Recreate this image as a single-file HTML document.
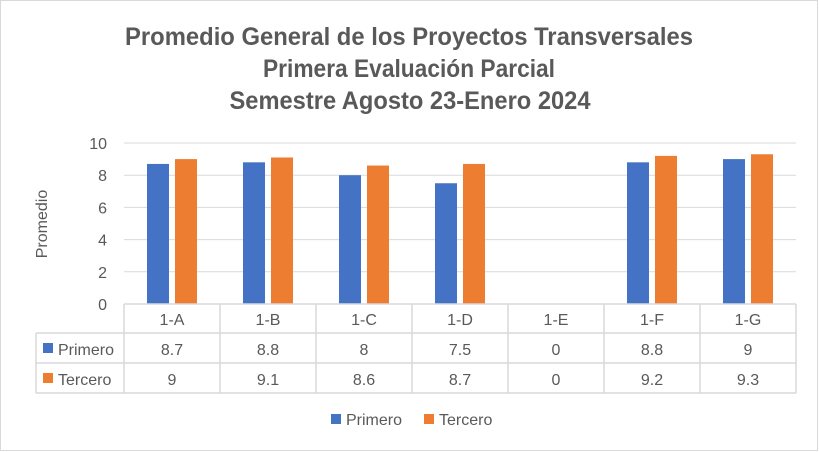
<!DOCTYPE html>
<html><head><meta charset="utf-8"><style>
body{margin:0;background:#fff}
svg{display:block;font-family:"Liberation Sans",sans-serif}
</style></head><body>
<svg id="chart" width="819" height="452">
<rect x="0.5" y="0.5" width="817" height="450" fill="#fff" stroke="#d9d9d9"/>
<g font-weight="bold" fill="#595959" font-size="25" text-anchor="middle">
<text x="409" y="45" textLength="568" lengthAdjust="spacingAndGlyphs">Promedio General de los Proyectos Transversales</text>
<text x="409" y="77" textLength="292" lengthAdjust="spacingAndGlyphs">Primera Evaluación Parcial</text>
<text x="410" y="109" textLength="361" lengthAdjust="spacingAndGlyphs">Semestre Agosto 23-Enero 2024</text>
</g>
<text transform="translate(47,224) rotate(-90)" text-anchor="middle" font-size="16" fill="#595959">Promedio</text>
<g id="grid"></g><g id="bars"></g><g id="table"></g>
<g font-size="16" fill="#595959">
<rect x="331" y="414" width="10" height="10" fill="#4472c4"/>
<text x="346" y="425">Primero</text>
<rect x="424" y="414" width="10" height="10" fill="#ed7d31"/>
<text x="439" y="425">Tercero</text>
</g>
</svg>
<script>
const categories=["1-A","1-B","1-C","1-D","1-E","1-F","1-G"];
const primero=[8.7,8.8,8,7.5,0,8.8,9];
const tercero=[9,9.1,8.6,8.7,0,9.2,9.3];
const yTicks=[0,2,4,6,8,10];
const NS="http://www.w3.org/2000/svg";
const X0=124,CW=96,Y0=304,YT=143,YMAX=10;
const yS=v=>Y0-(Y0-YT)*v/YMAX;
const xC=i=>X0+CW*i+CW/2;
function mk(t,a,p,txt){const e=document.createElementNS(NS,t);for(const k in a)e.setAttribute(k,a[k]);if(txt!==undefined)e.textContent=txt;p.appendChild(e);return e;}
const grid=document.getElementById('grid'),bars=document.getElementById('bars'),tbl=document.getElementById('table');
yTicks.forEach(v=>{
  if(v>0){const l=mk('line',{x1:X0,x2:X0+CW*7,y1:yS(v),y2:yS(v),stroke:'#d9d9d9','stroke-width':1},grid);
  
  }
  const t=mk('text',{x:107,y:yS(v)+6,'text-anchor':'end','font-size':16,fill:'#595959'},grid,String(v));
  
  
});
categories.forEach((c,i)=>{
  const b1=mk('rect',{x:xC(i)-25,y:yS(primero[i]),width:22,height:Y0-yS(primero[i]),fill:'#4472c4'},bars);
  
  
  const b2=mk('rect',{x:xC(i)+3,y:yS(tercero[i]),width:22,height:Y0-yS(tercero[i]),fill:'#ed7d31'},bars);
  
  
});
const R=[304,333,363,393];
const st={stroke:'#d9d9d9','stroke-width':1.5};
mk('line',Object.assign({x1:X0,x2:X0+CW*7,y1:R[0],y2:R[0]},st),tbl);
for(let r=1;r<4;r++)mk('line',Object.assign({x1:36,x2:X0+CW*7,y1:R[r],y2:R[r]},st),tbl);
mk('line',Object.assign({x1:36,x2:36,y1:R[1],y2:R[3]},st),tbl);
for(let i=0;i<=7;i++)mk('line',Object.assign({x1:X0+CW*i,x2:X0+CW*i,y1:R[0],y2:R[3]},st),tbl);
categories.forEach((c,i)=>{
  const t=mk('text',{x:xC(i),y:R[0]+21,'text-anchor':'middle','font-size':16,fill:'#595959'},tbl,c);
  
  
  const a=mk('text',{x:xC(i),y:R[1]+22,'text-anchor':'middle','font-size':16,fill:'#595959'},tbl,String(primero[i]));
  
  
  const b=mk('text',{x:xC(i),y:R[2]+22,'text-anchor':'middle','font-size':16,fill:'#595959'},tbl,String(tercero[i]));
  
  
});
[['Primero','#4472c4',R[1]],['Tercero','#ed7d31',R[2]]].forEach(([n,col,y])=>{
  const s=mk('rect',{x:43,y:y+10,width:10,height:10,fill:col},tbl);
  
  
  const t=mk('text',{x:58,y:y+22,'font-size':16,fill:'#595959'},tbl,n);
  
  
});
</script>
</body></html>
